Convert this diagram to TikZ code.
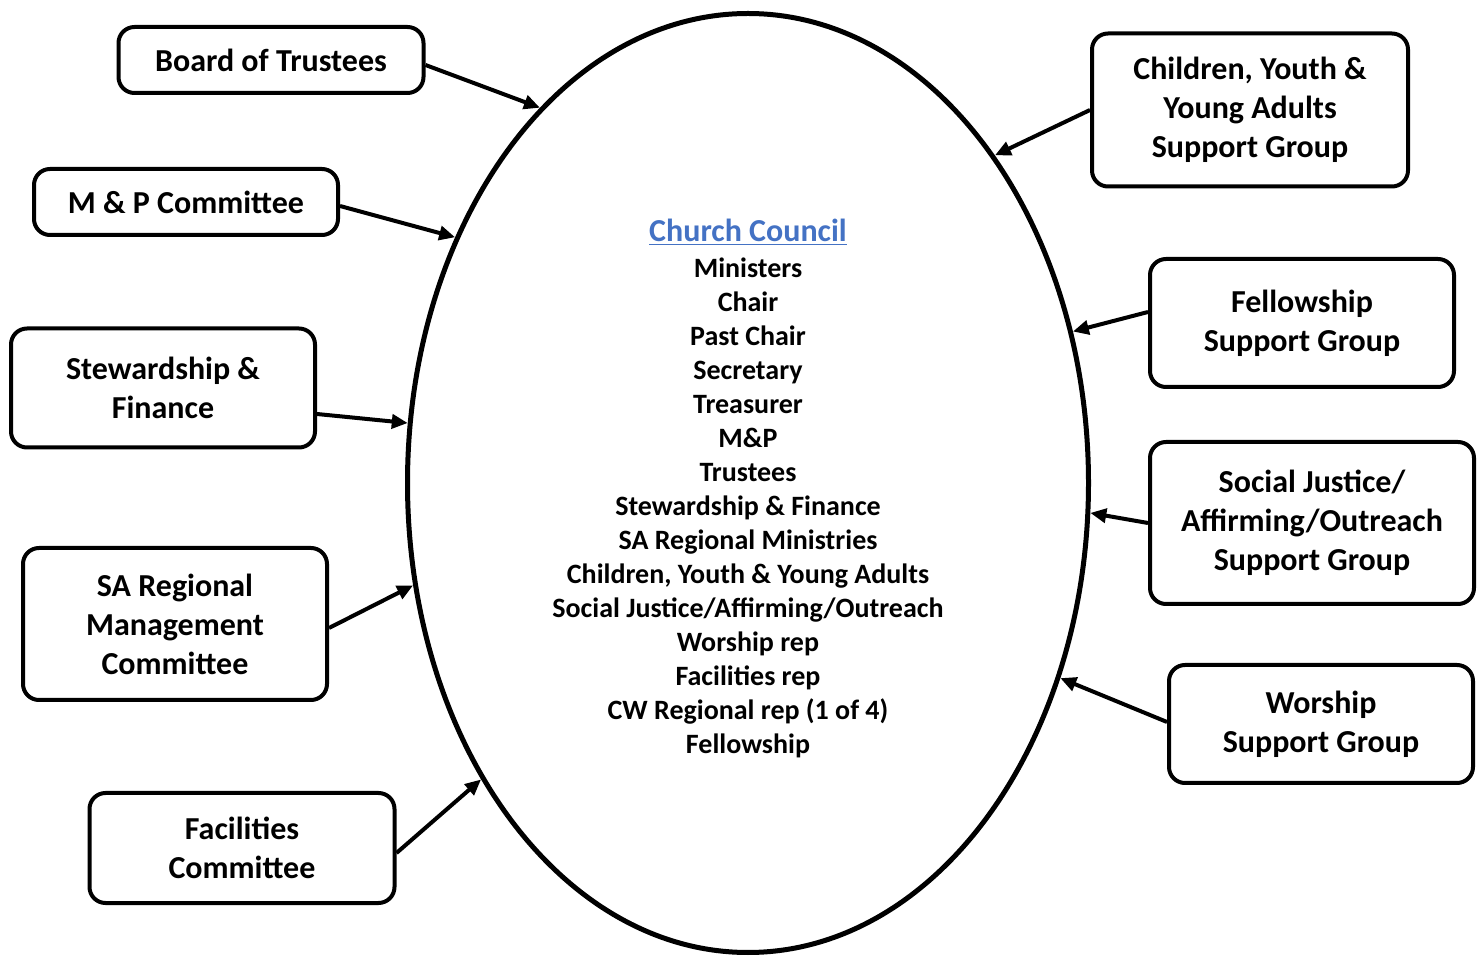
\documentclass[tikz,border=0pt]{standalone}
\usepackage{fontspec}
\setmainfont{Carlito}
\usetikzlibrary{shapes.geometric,arrows.meta}
\definecolor{councilblue}{HTML}{4472C4}
\begin{document}
\begin{tikzpicture}[x=0.5pt,y=-0.5pt,
    grp/.style={draw, black, line width=2pt, rounded corners=8pt, align=center,
      inner sep=0pt, font=\bfseries\fontsize{16}{19.5}\selectfont},
    feed/.style={-{Triangle[length=8pt,width=7pt]}, line width=2pt}]
  \useasboundingbox (0,0) rectangle (1484,956);
  % the council
  \node[ellipse, draw, line width=2.5pt, minimum width=340.5pt, minimum height=469.5pt, inner sep=0pt] (cc) at (748,483) {};
  \node[font=\bfseries\fontsize{16}{17}\selectfont, text=councilblue] (title) at (748,232) {\underline{Church Council}};
  \node[align=center, font=\bfseries\fontsize{14}{17}\selectfont] (members) at (748,508)
    {Ministers\\ Chair\\ Past Chair\\ Secretary\\ Treasurer\\ M\&P\\ Trustees\\
     Stewardship \& Finance\\ SA Regional Ministries\\ Children, Youth \& Young Adults\\
     Social Justice/Affirming/Outreach\\ Worship rep\\ Facilities rep\\
     CW Regional rep (1 of 4)\\ Fellowship};
  % left side
  \node[grp, minimum width=152.5pt, minimum height=33pt] (bt) at (271,60) {Board of Trustees};
  \node[grp, minimum width=152pt, minimum height=33pt] (mp) at (186,202) {M \& P Committee};
  \node[grp, minimum width=152pt, minimum height=59.5pt] (sf) at (163,388) {Stewardship \&\\ Finance};
  \node[grp, minimum width=152pt, minimum height=76pt] (sa) at (175,624) {SA Regional\\ Management\\ Committee};
  \node[grp, minimum width=152.5pt, minimum height=55pt] (fc) at (242,848) {Facilities\\ Committee};
  % right side
  \node[grp, minimum width=158pt, minimum height=76.5pt] (cy) at (1250,110) {Children, Youth \&\\ Young Adults\\ Support Group};
  \node[grp, minimum width=152pt, minimum height=64pt] (fs) at (1302,323) {Fellowship\\ Support Group};
  \node[grp, minimum width=162pt, minimum height=81pt] (sj) at (1312,523) {Social Justice/\\ Affirming/Outreach\\ Support Group};
  \node[grp, minimum width=152pt, minimum height=59pt] (ws) at (1321,724) {Worship\\ Support Group};
  % connectors
  \draw[feed] ([yshift=-2.5pt]bt.east) -- (cc.119.3);
  \draw[feed] ([yshift=-2pt]mp.east) -- (cc.140.2);
  \draw[feed] ([yshift=-13pt]sf.east) -- (cc.170.3);
  \draw[feed] ([yshift=-2pt]sa.east) -- (cc.197.6);
  \draw[feed] ([yshift=-2.5pt]fc.east) -- (cc.228.8);
  \draw[feed] (cy.west) -- (cc.53.7);
  \draw[feed] ([yshift=5.5pt]fs.west) -- (cc.25.4);
  \draw[feed] (sj.west) -- (cc.-5.3);
  \draw[feed] ([yshift=1pt]ws.west) -- (cc.-32.5);
\end{tikzpicture}
\end{document}
